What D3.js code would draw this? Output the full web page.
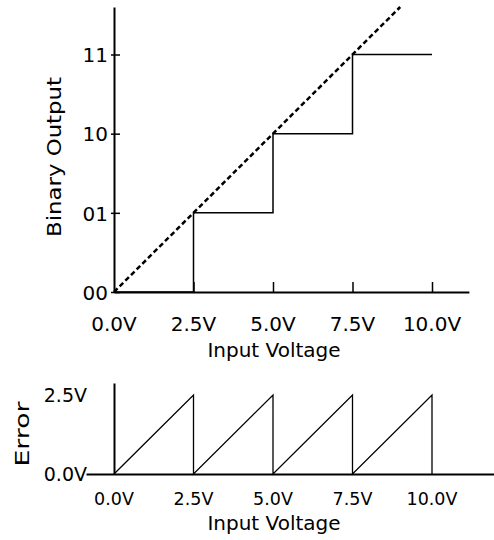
<!DOCTYPE html>
<html lang="en">
<head>
    <title>ADC quantization</title>
    <style>
        body { margin: 0; background: #fff; }
        text { font-family: "DejaVu Sans", sans-serif; fill: #000; }
    </style>
    <script src="https://d3js.org/d3.v7.min.js"></script>
</head>
<body>
    <script>
        // data
        const voltTicks   = [0, 2.5, 5, 7.5, 10];
        const voltLabels  = ["0.0V", "2.5V", "5.0V", "7.5V", "10.0V"];
        const codeTicks   = [0, 1, 2, 3];
        const codeLabels  = ["00", "01", "10", "11"];
        const stepX  = [0, 2.5, 5, 7.5, 10];
        const stepY  = [0, 1, 2, 3, 3];
        const idealX = [0, 9];
        const idealY = [0, 3.6];
        const errX   = [0, 2.5, 2.5, 5, 5, 7.5, 7.5, 10, 10];
        const errY   = [0, 2.5, 0, 2.5, 0, 2.5, 0, 2.5, 0];
        const errTicks  = [0, 2.5];
        const errLabels = ["0.0V", "2.5V"];

        const svg = d3.select("body").append("svg")
            .attr("width", 494).attr("height", 540);

        // shared x scale
        const x = d3.scaleLinear().domain([0, 10]).range([114, 432]);

        // ---- top chart ----
        const y = d3.scaleLinear().domain([0, 3]).range([292, 54.5]);

        const xTop = d3.scaleLinear().domain([0, 11.16]).range([x(0), x(11.16)]);
        const gx = svg.append("g")
            .attr("transform", `translate(0,${y(0)})`)
            .call(d3.axisBottom(xTop).tickValues(voltTicks.slice(1)).tickSizeInner(-10).tickSizeOuter(0).tickFormat(""));
        gx.select(".domain").attr("stroke-width", 2);
        gx.selectAll(".tick line").attr("stroke-width", 1.5);

        const yTop = d3.scaleLinear().domain([0, 3.6]).range([y(0), y(3.6)]);
        const gy = svg.append("g")
            .attr("transform", `translate(${x(0)},0)`)
            .call(d3.axisLeft(yTop).tickValues(codeTicks).tickSizeOuter(0)
                .tickFormat((d, i) => codeLabels[i]));
        gy.select(".domain").attr("stroke-width", 2);
        gy.selectAll(".tick line").attr("x1", -3).attr("x2", 6).attr("stroke-width", 1.5);
        gy.selectAll(".tick text").attr("x", -6).attr("dy", "0.36em")
            .style("font-size", "20px").style("font-family", "DejaVu Sans");

        svg.append("g").selectAll("text")
            .data(voltTicks).join("text")
            .attr("x", d => x(d)).attr("y", 331)
            .attr("text-anchor", "middle").style("font-size", "20px")
            .text((d, i) => voltLabels[i]);

        svg.append("text").attr("x", 274).attr("y", 357)
            .attr("text-anchor", "middle").style("font-size", "20px")
            .text("Input Voltage");

        svg.append("text")
            .attr("transform", "translate(61,157) rotate(-90)")
            .attr("text-anchor", "middle").style("font-size", "20px")
            .attr("textLength", 160).attr("lengthAdjust", "spacingAndGlyphs")
            .text("Binary Output");

        // ideal transfer line
        svg.append("path")
            .datum(idealX.map((d, i) => [d, idealY[i]]))
            .attr("fill", "none").attr("stroke", "#000")
            .attr("stroke-width", 2.5).attr("stroke-dasharray", "5,3")
            .attr("d", d3.line().x(d => x(d[0])).y(d => y(d[1])));

        // quantized steps
        svg.append("path")
            .datum(stepX.map((d, i) => [d, stepY[i]]))
            .attr("fill", "none").attr("stroke", "#000").attr("stroke-width", 1.5)
            .attr("d", d3.line().curve(d3.curveStepAfter).x(d => x(d[0])).y(d => y(d[1])));

        // ---- bottom chart ----
        const ye = d3.scaleLinear().domain([0, 2.5]).range([474, 395]);

        const xBot = d3.scaleLinear().domain([x.invert(86), x.invert(494)]).range([86, 494]);
        const gx2 = svg.append("g")
            .attr("transform", `translate(0,${ye(0)})`)
            .call(d3.axisBottom(xBot).tickValues([]).tickSizeOuter(0));
        gx2.select(".domain").attr("stroke-width", 2);

        const yBot = d3.scaleLinear().domain([0, 2.88]).range([ye(0), ye(2.88)]);
        const gy2 = svg.append("g")
            .attr("transform", `translate(${x(0)},0)`)
            .call(d3.axisLeft(yBot).tickValues([]).tickSizeOuter(0));
        gy2.select(".domain").attr("stroke-width", 2);

        svg.append("g").selectAll("text")
            .data(errTicks).join("text")
            .attr("x", 87).attr("y", d => ye(d)).attr("dy", "0.36em")
            .attr("text-anchor", "end").style("font-size", "19px")
            .text((d, i) => errLabels[i]);

        svg.append("g").selectAll("text")
            .data(voltTicks).join("text")
            .attr("x", d => x(d)).attr("y", 505)
            .attr("text-anchor", "middle").style("font-size", "17.5px")
            .text((d, i) => voltLabels[i]);

        svg.append("text").attr("x", 274).attr("y", 530)
            .attr("text-anchor", "middle").style("font-size", "20px")
            .text("Input Voltage");

        svg.append("text")
            .attr("transform", "translate(29,434) rotate(-90)")
            .attr("text-anchor", "middle").style("font-size", "20px")
            .attr("textLength", 65).attr("lengthAdjust", "spacingAndGlyphs")
            .text("Error");

        // quantization error sawtooth
        svg.append("path")
            .datum(errX.map((d, i) => [d, errY[i]]))
            .attr("fill", "none").attr("stroke", "#000").attr("stroke-width", 1.3)
            .attr("d", d3.line().x(d => x(d[0])).y(d => ye(d[1])));
    </script>
</body>
</html>
